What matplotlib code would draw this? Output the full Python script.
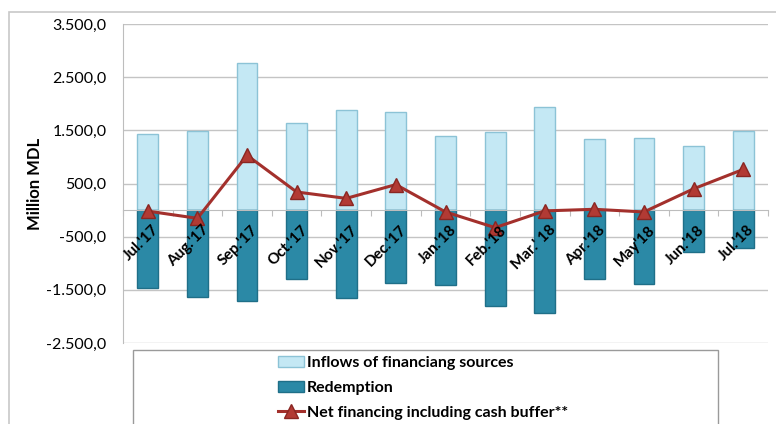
import numpy as np
import matplotlib.pyplot as plt
from matplotlib.patches import Rectangle
from matplotlib.ticker import FuncFormatter

months = ["Jul.'17", "Aug.'17", "Sep.'17", "Oct.'17", "Nov.'17", "Dec.'17",
          "Jan.'18", "Feb.'18", "Mar.' 18", "Apr.'18", "May'18", "Jun.'18", "Jul.'18"]
inflows = [1440, 1480, 2770, 1630, 1880, 1845, 1390, 1465, 1945, 1330, 1350, 1205, 1485]
redemption = [-1460, -1635, -1710, -1290, -1660, -1380, -1410, -1805, -1945, -1305, -1390, -790, -710]
net = [-20, -155, 1030, 340, 220, 480, -35, -330, -15, 15, -35, 400, 765]

plt.rcParams['font.family'] = ['Lato', 'DejaVu Sans']

fig = plt.figure(figsize=(7.76, 4.24), dpi=100)
fig.patches.append(Rectangle((9 / 776, -0.1), 1.0, 1 - 12 / 424 + 0.1,
                             transform=fig.transFigure, fill=False,
                             edgecolor='#c8c8c8', lw=1.2))
ax = fig.add_axes([123 / 776, 1 - 343 / 424, 645 / 776, 319 / 424])

x = np.arange(len(months))
b1 = ax.bar(x, inflows, width=0.42, color='#c4e8f4', edgecolor='#8cc3d6', lw=1,
            label='Inflows of financiang sources', zorder=2)
b2 = ax.bar(x, redemption, width=0.42, color='#2b89a6', edgecolor='#1f6f88', lw=1,
            label='Redemption', zorder=2)
ln, = ax.plot(x, net, color='#a3302c', lw=2.2, marker='^', markersize=10,
              markerfacecolor='#b23a34', markeredgecolor='#8a2622',
              label='Net financing including cash buffer**', zorder=3)

ax.set_xlim(-0.5, len(months) - 0.5)
ax.set_ylim(-2500, 3500)
ax.set_yticks(np.arange(-2500, 3501, 1000))
ax.yaxis.set_major_formatter(FuncFormatter(
    lambda v, p: f"{v:,.1f}".replace(',', ' ').replace('.', ',').replace(' ', '.')))
ax.tick_params(axis='y', length=0, labelsize=11.5, pad=12)
ax.grid(axis='y', color='#c4c4c4', lw=1, zorder=0)

ax.spines['bottom'].set_position(('data', 0))
ax.spines['bottom'].set_color('#bdbdbd')
ax.spines['left'].set_color('#bdbdbd')
ax.spines['top'].set_visible(False)
ax.spines['right'].set_visible(False)
ax.set_xticks(np.arange(-0.5, len(months), 1))
ax.set_xticklabels([])
ax.tick_params(axis='x', length=4, color='#bdbdbd', direction='out')

for i, m in enumerate(months):
    ax.text(i + 0.08, -240, m, rotation=45, ha='right', va='top',
            rotation_mode='anchor', fontsize=11, fontweight='bold', zorder=4)

ax.set_ylabel('Million MDL', fontsize=12, fontweight='bold', labelpad=2)

fig.patches.append(Rectangle((133 / 776, -0.1), 585 / 776, 1 - 350 / 424 + 0.1,
                             transform=fig.transFigure, fill=False,
                             edgecolor='#9a9a9a', lw=1))
leg = fig.legend([b1, b2, ln],
                 ['Inflows of financiang sources', 'Redemption',
                  'Net financing including cash buffer**'],
                 loc='upper left', bbox_to_anchor=(275 / 776, 1 - 353 / 424),
                 frameon=False, prop={'weight': 'bold', 'size': 11.5},
                 handlelength=1.6, handletextpad=0.2, labelspacing=0.65,
                 borderaxespad=0, borderpad=0.2)

fig.savefig('out.png', dpi=100)
